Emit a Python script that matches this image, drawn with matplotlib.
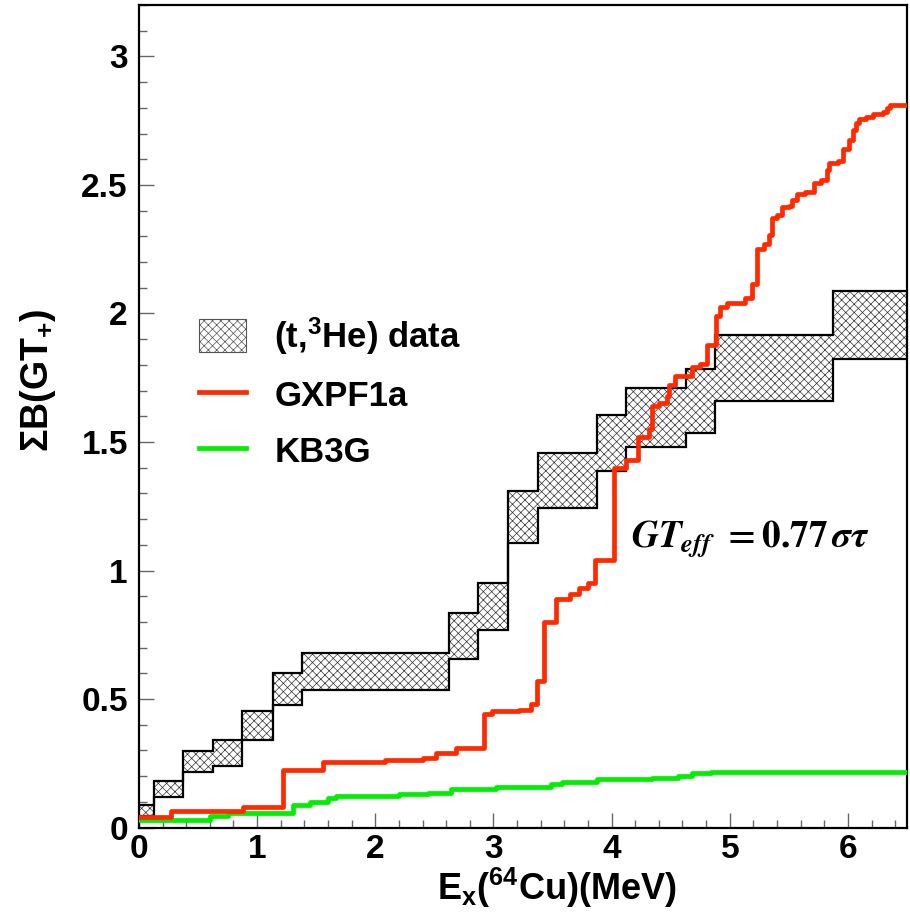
import matplotlib
matplotlib.use("Agg")
import matplotlib.pyplot as plt
from matplotlib.patches import Patch
from matplotlib.lines import Line2D
from matplotlib.ticker import MultipleLocator, FuncFormatter

# (t,3He) data band: bin edges, upper and lower bound of each bin
band_edges = [0, 0.13, 0.37, 0.625, 0.873, 1.132, 1.377, 2.626, 2.871, 3.125,
              3.38, 3.88, 4.125, 4.63, 4.873, 5.873, 6.5]
band_upper = [0.088, 0.182, 0.298, 0.34, 0.453, 0.6, 0.678, 0.833, 0.953, 1.31,
              1.456, 1.605, 1.709, 1.783, 1.916, 2.089]
band_lower = [0.045, 0.12, 0.217, 0.239, 0.34, 0.477, 0.535, 0.656, 0.768, 1.106,
              1.242, 1.388, 1.482, 1.534, 1.66, 1.823]

# GXPF1a cumulative sum (step starts)
gxpf_x = [0, 0.27, 0.88, 1.22, 1.56, 2.08, 2.40, 2.51, 2.68, 2.92, 2.99, 3.22,
          3.32, 3.37, 3.43, 3.53, 3.65, 3.72, 3.80, 3.86, 4.02, 4.12, 4.22,
          4.32, 4.34, 4.40, 4.47, 4.49, 4.54, 4.68, 4.75, 4.81, 4.88, 4.92,
          4.98, 5.13, 5.19, 5.23, 5.29, 5.33, 5.36, 5.40, 5.44, 5.50, 5.53,
          5.57, 5.64, 5.71, 5.77, 5.82, 5.84, 5.92, 5.96, 6.01, 6.04, 6.07,
          6.09, 6.15, 6.21, 6.30, 6.33, 6.36, 6.5]
gxpf_y = [0.04, 0.066, 0.078, 0.224, 0.255, 0.262, 0.27, 0.29, 0.31, 0.44,
          0.452, 0.458, 0.48, 0.57, 0.80, 0.89, 0.91, 0.93, 0.95, 1.04, 1.40,
          1.43, 1.52, 1.55, 1.64, 1.65, 1.68, 1.72, 1.757, 1.79, 1.803, 1.877,
          1.99, 2.024, 2.04, 2.06, 2.115, 2.25, 2.27, 2.305, 2.37, 2.383,
          2.413, 2.42, 2.44, 2.464, 2.474, 2.506, 2.52, 2.558, 2.587, 2.593,
          2.639, 2.675, 2.714, 2.74, 2.755, 2.766, 2.775, 2.785, 2.798, 2.81,
          2.81]

# KB3G cumulative sum (step starts)
kb3g_x = [0, 0.6, 0.75, 1.30, 1.45, 1.60, 1.67, 2.2, 2.45, 2.64, 3.02, 3.49,
          3.58, 3.88, 4.34, 4.56, 4.68, 4.84, 6.5]
kb3g_y = [0.03, 0.046, 0.058, 0.088, 0.10, 0.116, 0.123, 0.13, 0.135, 0.149,
          0.159, 0.168, 0.178, 0.188, 0.194, 0.2, 0.211, 0.217, 0.217]

plt.rcParams["font.family"] = ["Liberation Sans", "DejaVu Sans"]
plt.rcParams["font.weight"] = "bold"
plt.rcParams["mathtext.fontset"] = "custom"
plt.rcParams["mathtext.rm"] = "Liberation Sans:bold"
plt.rcParams["mathtext.bf"] = "Liberation Sans:bold"
plt.rcParams["hatch.linewidth"] = 0.5
plt.rcParams["hatch.color"] = "#333333"

fig = plt.figure(figsize=(9.1, 9.14), dpi=100)
ax = fig.add_axes([0.1527, 0.0946, 0.844, 0.8999])

hatch = "xxxx"
ax.fill_between(band_edges, band_lower + band_lower[-1:], band_upper + band_upper[-1:],
                step="post", facecolor="white", edgecolor="#333333", linewidth=0,
                hatch=hatch, zorder=1)
ax.stairs(band_upper, band_edges, baseline=None, color="black", lw=1.6, zorder=2)
ax.stairs(band_lower, band_edges, baseline=None, color="black", lw=1.6, zorder=2)

ax.step(kb3g_x, kb3g_y, where="post", color="#00ee00", lw=3.4, zorder=3)
ax.step(gxpf_x, gxpf_y, where="post", color="#ff2a00", lw=3.4, zorder=4)

ax.text(4.165, 1.126, r"$GT_{eff}\ = 0.77\,\sigma\tau$", fontsize=27,
        fontweight="normal", math_fontfamily="stix", va="center", ha="left")

handles = [Patch(facecolor="white", edgecolor="#555555", hatch=hatch, lw=0.8),
           Line2D([], [], color="#ff2a00", lw=3.4),
           Line2D([], [], color="#00ee00", lw=3.4)]
labels = [r"(t,$\mathbf{^{3}}$He) data", "GXPF1a", "KB3G"]
ax.legend(handles, labels, loc="upper left", bbox_to_anchor=(0.06, 0.64),
          frameon=False, fontsize=25, handlelength=1.37, handleheight=1.1,
          handletextpad=0.8, labelspacing=0.6, borderaxespad=0)

ax.set_xlim(0, 6.5)
ax.set_ylim(0, 3.2)
ax.xaxis.set_major_locator(MultipleLocator(1))
ax.xaxis.set_minor_locator(MultipleLocator(0.2))
ax.yaxis.set_major_locator(MultipleLocator(0.5))
ax.yaxis.set_minor_locator(MultipleLocator(0.1))
fmt = FuncFormatter(lambda v, p: "{:g}".format(v))
ax.xaxis.set_major_formatter(fmt)
ax.yaxis.set_major_formatter(fmt)
ax.tick_params(which="both", direction="in", top=False, right=False,
               color="#666666", width=1.0, labelsize=24)
ax.tick_params(which="major", length=11)
ax.tick_params(which="minor", length=5.5)
ax.tick_params(axis="x", pad=5)
ax.tick_params(axis="y", pad=8)
for s in ax.spines.values():
    s.set_linewidth(1.6)

ax.set_xlabel(r"$\mathbf{E_{x}(^{64}Cu)(MeV)}$", fontsize=26)
ax.xaxis.set_label_coords(0.544, -0.047)
ax.set_ylabel(r"$\mathbf{\Sigma B(GT_{+})}$", fontsize=27)
ax.yaxis.set_label_coords(-0.105, 0.544)

fig.savefig("out.png", dpi=100)
